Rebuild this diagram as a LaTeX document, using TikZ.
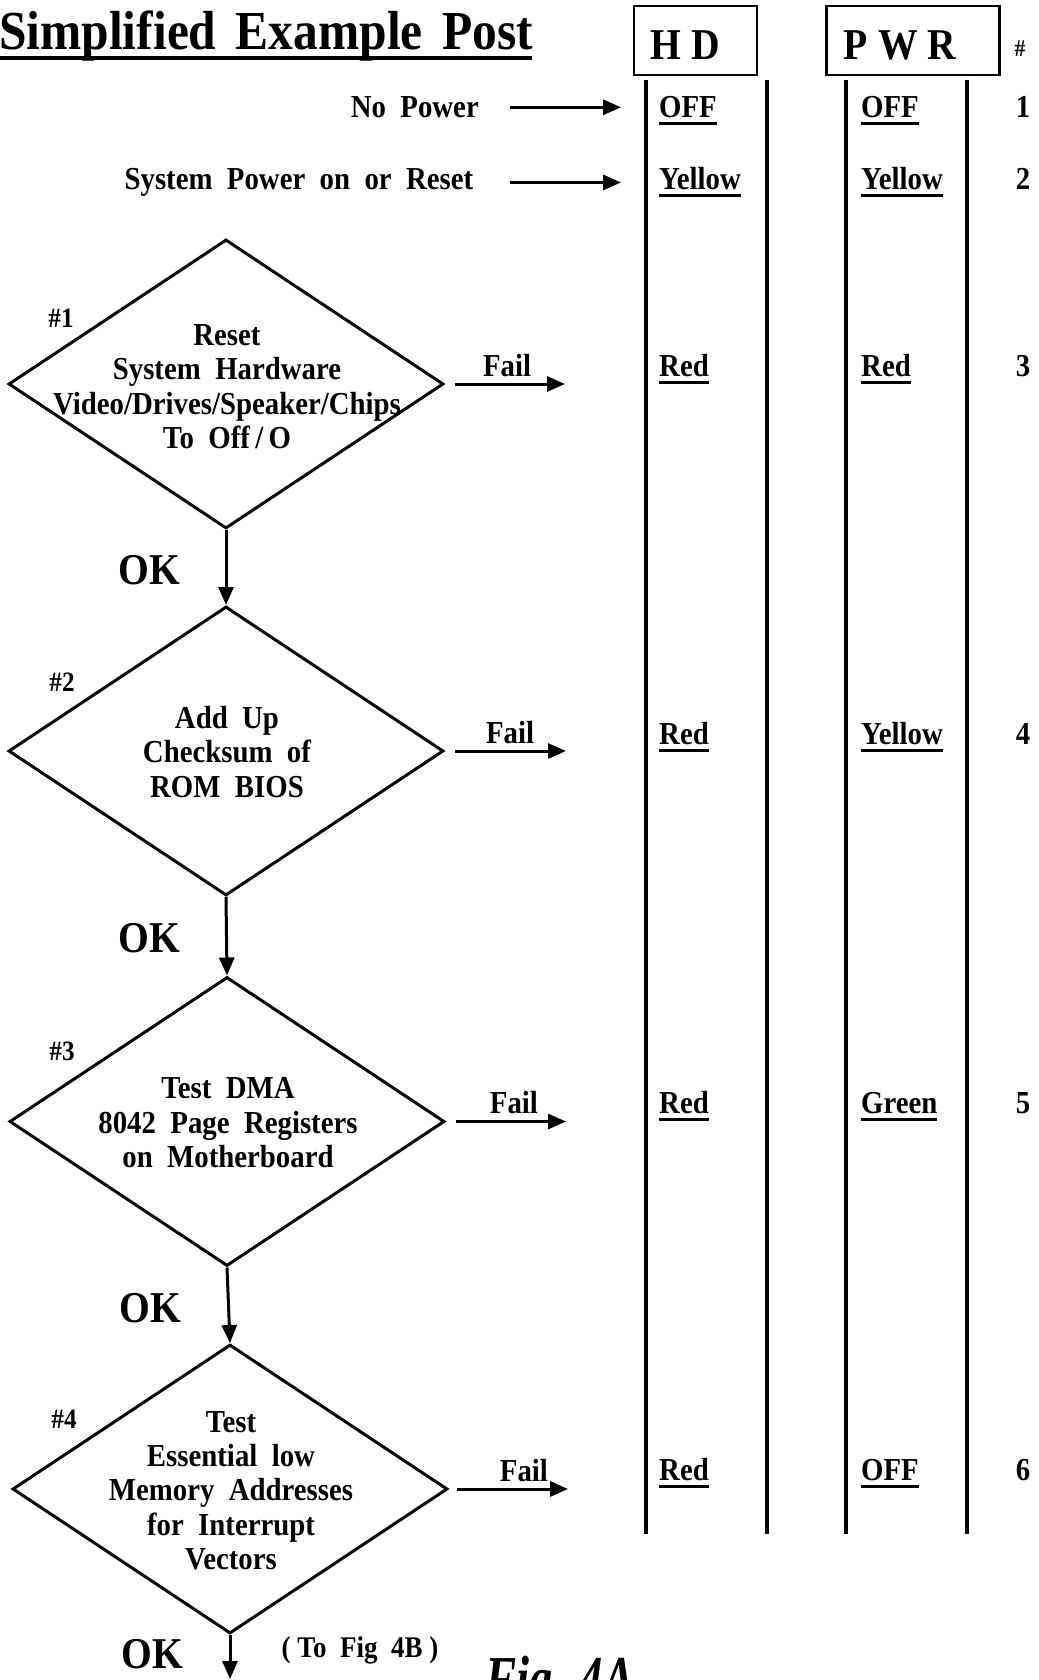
\documentclass[tikz,border=0pt]{standalone}
\usepackage{fontspec}
\usepackage{graphicx}
\setmainfont{Liberation Serif}[FakeStretch=0.9]
\usetikzlibrary{shapes.geometric,arrows.meta}
\newcommand{\myul}[1]{\leavevmode\setbox0=\hbox{#1}\rlap{\rule[-7pt]{\wd0}{3pt}}\box0}
\begin{document}
\begin{tikzpicture}[x=1pt,y=-1pt,
  txt/.style={font=\fontsize{32}{34.3}\selectfont\bfseries, inner sep=0pt, align=center},
  big/.style={font=\fontsize{44}{44}\selectfont\bfseries, inner sep=0pt},
  num/.style={font=\fontsize{28}{28}\selectfont\bfseries, inner sep=0pt},
  dia/.style={draw, shape=diamond, minimum width=435pt, minimum height=289pt, inner sep=0pt, line width=3pt},
  hbox/.style={draw, line width=2.8pt, inner sep=0pt},
  col/.style={line width=3.2pt},
  arr/.style={line width=3pt, -{Triangle[length=18pt,width=15pt]}},
  val/.style={txt, anchor=base west},
]
\useasboundingbox (0,0) rectangle (1038,1680);
\clip (0,0) rectangle (1038,1680);

% title
\node[anchor=base west, inner sep=0pt, font=\fontsize{55}{55}\selectfont\bfseries] (title) at (-1,50) {Simplified\hspace{7pt} Example\hspace{7pt} Post};
\fill (0,56) rectangle (532,60);

% header boxes
\node[hbox, minimum width=123pt, minimum height=69pt] (hdbox) at (695.5,40.5) {};
\node[big, anchor=base] (hdtxt) at (685.6,60) {H D};
\node[hbox, minimum width=173pt, minimum height=69pt] (pwrbox) at (912.6,40.5) {};
\node[big, anchor=base] (pwrtxt) at (900,60) {P W R};
\node[anchor=base, inner sep=0pt, font=\fontsize{24}{24}\selectfont\bfseries] (hash) at (1020,57) {\#};

% columns
\draw[col] (646,80) -- (646,1534);
\draw[col] (767,80) -- (767,1534);
\draw[col] (846,80) -- (846,1534);
\draw[col] (967,80) -- (967,1534);

% row labels
\node[txt, anchor=base east] (nopower) at (479,117.6) {No~~Power};
\node[txt, anchor=base east] (sysreset) at (473.5,189.6) {System~~Power~~on~~or~~Reset};

% values
\node[val] (hd1) at (659,117.6) {\myul{OFF}};
\node[val] (pw1) at (861,117.6) {\myul{OFF}};
\node[txt, anchor=base] (n1) at (1023,117.6) {1};
\node[val] (hd2) at (659,189.6) {\myul{Yellow}};
\node[val] (pw2) at (861,189.6) {\myul{Yellow}};
\node[txt, anchor=base] (n2) at (1023,189.6) {2};
\node[val] (hd3) at (659,376.6) {\myul{Red}};
\node[val] (pw3) at (861,376.6) {\myul{Red}};
\node[txt, anchor=base] (n3) at (1023,376.6) {3};
\node[val] (hd4) at (659,744.6) {\myul{Red}};
\node[val] (pw4) at (861,744.6) {\myul{Yellow}};
\node[txt, anchor=base] (n4) at (1023,744.6) {4};
\node[val] (hd5) at (659,1113.6) {\myul{Red}};
\node[val] (pw5) at (861,1113.6) {\myul{Green}};
\node[txt, anchor=base] (n5) at (1023,1113.6) {5};
\node[val] (hd6) at (659,1480.6) {\myul{Red}};
\node[val] (pw6) at (861,1480.6) {\myul{OFF}};
\node[txt, anchor=base] (n6) at (1023,1480.6) {6};

\draw[arr, shorten <=31pt, shorten >=38pt] (nopower.east) -- (nopower.east -| hd1.west);
\draw[arr, shorten <=36pt, shorten >=38pt] (sysreset.east) -- (sysreset.east -| hd2.west);

% diamonds
\node[dia] (d1) at (226,384) {};
\node[dia] (d2) at (226,751) {};
\node[dia] (d3) at (227,1121.5) {};
\node[dia] (d4) at (230,1489) {};

\node[txt] (t1) at (227,386.6) {Reset\\System~~Hardware\\Video/Drives/Speaker/Chips\\To~~Off\,/\,O};
\node[txt] (t2) at (227,752) {Add~~Up\\Checksum~~of\\ROM~~BIOS};
\node[txt] (t3) at (228,1122.6) {Test~~DMA\\8042~~Page~~Registers\\on~~Motherboard};
\node[txt] (t4) at (231,1490.6) {Test\\Essential~~low\\Memory~~Addresses\\for~~Interrupt\\Vectors};

\node[num] (h1) at (61,318) {\#1};
\node[num] (h2) at (62,682) {\#2};
\node[num] (h3) at (62,1051) {\#3};
\node[num] (h4) at (64,1419) {\#4};

% fail arrows
\draw[arr, shorten <=10pt, shorten >=94pt] (d1.east) -- (d1.east -| hd3.west) node[txt, pos=0.29, above=6pt] (f1) {Fail};
\draw[arr, shorten <=10pt, shorten >=93pt] (d2.east) -- (d2.east -| hd4.west) node[txt, pos=0.304, above=6pt] (f2) {Fail};
\draw[arr, shorten <=10pt, shorten >=93pt] (d3.east) -- (d3.east -| hd5.west) node[txt, pos=0.319, above=6pt] (f3) {Fail};
\draw[arr, shorten <=8pt, shorten >=91pt] (d4.east) -- (d4.east -| hd6.west) node[txt, pos=0.357, above=6pt] (f4) {Fail};

% OK arrows
\draw[arr] (d1.south) -- (d2.north);
\draw[arr] (d2.south) -- (d3.north);
\draw[arr] (d3.south) -- (d4.north);
\coordinate (endc) at (230,1679);
\draw[arr] (d4.south) -- (endc);

\node[big] (ok1) at (149,570) {OK};
\node[big] (ok2) at (149,938) {OK};
\node[big] (ok3) at (150,1308) {OK};
\node[big] (ok4) at (152,1654) {OK};

\node[txt, font=\fontsize{30}{30}\selectfont\bfseries] (tofig) at (360,1650) {(~To~~Fig~~4B~)};
\node[anchor=base west, inner sep=0pt, font=\fontsize{64}{64}\selectfont\bfseries\itshape] (fig) at (485,1700) {\scalebox{0.81}[1]{Fig. 4A}};
\end{tikzpicture}
\end{document}
